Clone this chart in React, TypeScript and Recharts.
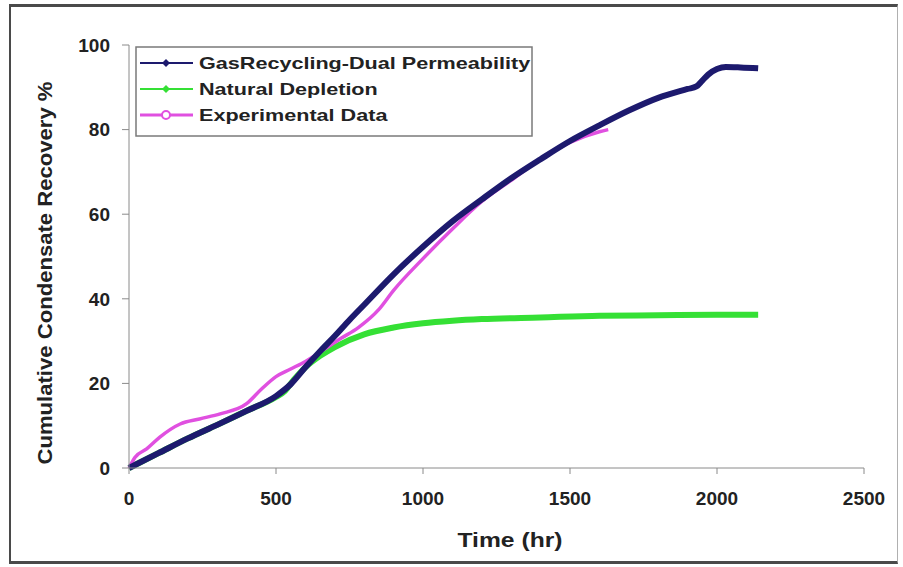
import React from 'react';
import { LineChart, Line, XAxis, YAxis, Legend, Label } from 'recharts';

// Time (hr) and cumulative recovery (%)
const gasTime = [0, 100, 200, 300, 400, 500, 550, 600, 650, 700, 750, 800, 900, 1000, 1100, 1200, 1300, 1400, 1500, 1600, 1700, 1800, 1900, 1930, 1950, 1970, 2000, 2030, 2080, 2140];
const gasValue = [0, 3.5, 7, 10.2, 13.5, 17, 19.8, 23.8, 27.6, 31.2, 35, 38.6, 45.8, 52.3, 58.3, 63.5, 68.5, 73, 77.3, 81, 84.5, 87.5, 89.6, 90.2, 91.6, 93, 94.3, 94.8, 94.7, 94.5];

const depletionTime = [0, 100, 200, 300, 400, 500, 530, 560, 600, 650, 700, 800, 900, 1000, 1100, 1200, 1400, 1600, 1800, 2000, 2140];
const depletionValue = [0, 3.5, 7, 10.2, 13.5, 16.8, 18.2, 20.8, 23.8, 26.5, 28.6, 31.6, 33.2, 34.2, 34.8, 35.2, 35.6, 36, 36.1, 36.2, 36.2];

const expTime = [0, 20, 60, 105, 174, 240, 310, 400, 450, 500, 550, 600, 650, 720, 780, 850, 900, 1000, 1100, 1200, 1300, 1400, 1500, 1600, 1630];
const expValue = [0, 2.5, 4.5, 7.3, 10.4, 11.6, 12.8, 15.2, 18.6, 21.6, 23.4, 25.2, 27.4, 30.6, 33.2, 37.5, 42, 49.5, 56.5, 63, 68, 73, 77, 79.5, 80];

const xTicks = [0, 500, 1000, 1500, 2000, 2500];
const yTicks = [0, 20, 40, 60, 80, 100];

const seriesNames = ['GasRecycling-Dual Permeability', 'Natural Depletion', 'Experimental Data'];

const GAS = '#1d1a6e';
const DEP = '#35e035';
const EXP = '#e050e0';

const toPoints = (ts: number[], vs: number[]) => ts.map((t, i) => ({ t, v: vs[i] }));

const gasData = toPoints(gasTime, gasValue);
const depletionData = toPoints(depletionTime, depletionValue);
const expData = toPoints(expTime, expValue);

const FONT = '"Liberation Sans", Arial, sans-serif';

function LegendBox() {
  const rows = [
    { name: seriesNames[0], color: GAS, marker: 'diamond' },
    { name: seriesNames[1], color: DEP, marker: 'diamond' },
    { name: seriesNames[2], color: EXP, marker: 'circle' },
  ];
  return (
    <svg width={398} height={91} style={{ display: 'block' }}>
      <rect x={1} y={1} width={396} height={89} fill="#fff" stroke="#7a7a7a" strokeWidth={1.5} />
      {rows.map((r, i) => {
        const cy = 17 + i * 26;
        return (
          <g key={r.name}>
            <line x1={5} x2={58} y1={cy} y2={cy} stroke={r.color} strokeWidth={r.marker === 'circle' ? 3 : 2} />
            {r.marker === 'circle' ? (
              <circle cx={31} cy={cy} r={4} fill="#fff" stroke={r.color} strokeWidth={2} />
            ) : (
              <path d={`M31 ${cy - 4} L35 ${cy} L31 ${cy + 4} L27 ${cy} Z`} fill={r.color} />
            )}
            <text
              transform={`translate(64 ${cy + 6}) scale(1.35 1)`}
              fontFamily={FONT}
              fontWeight="bold"
              fontSize={16}
              fill="#222"
            >
              {r.name}
            </text>
          </g>
        );
      })}
    </svg>
  );
}

export default function App() {
  return (
    <div style={{ position: 'absolute', left: 0, top: 0, width: 903, height: 567, background: '#fff' }}>
      <div
        style={{
          position: 'absolute',
          left: 9,
          top: 4,
          width: 889,
          height: 560,
          boxSizing: 'border-box',
          borderTop: '3px solid #4a4a4a',
          borderLeft: '2px solid #4a4a4a',
          borderBottom: '3px solid #4a4a4a',
          borderRight: '1px solid #b0b0b0',
        }}
      />
      <LineChart
        width={903}
        height={567}
        margin={{ top: 45, right: 39, bottom: 0, left: 0 }}
        style={{ position: 'absolute', left: 0, top: 0 }}
      >
        <XAxis
          type="number"
          dataKey="t"
          domain={[0, 2500]}
          ticks={xTicks}
          height={99}
          stroke="#8a8a8a"
          tickSize={6}
          tickMargin={18}
          tick={{ fontFamily: FONT, fontWeight: 'bold', fontSize: 19, fill: '#222' }}
          allowDuplicatedCategory={false}
        >
          <Label
            content={() => (
              <text
                x={510}
                y={547}
                textAnchor="middle"
                fontFamily={FONT}
                fontWeight="bold"
                fontSize={20}
                fill="#222"
                textLength={105}
                lengthAdjust="spacingAndGlyphs"
              >
                Time (hr)
              </text>
            )}
          />
        </XAxis>
        <YAxis
          type="number"
          domain={[0, 100]}
          ticks={yTicks}
          width={129}
          stroke="#8a8a8a"
          tickSize={7}
          tickMargin={12}
          tick={{ fontFamily: FONT, fontWeight: 'bold', fontSize: 19, fill: '#222' }}
        >
          <Label
            content={() => (
              <text
                transform="translate(52 273) rotate(-90)"
                textAnchor="middle"
                fontFamily={FONT}
                fontWeight="bold"
                fontSize={20}
                fill="#222"
                textLength={383}
                lengthAdjust="spacingAndGlyphs"
              >
                Cumulative Condensate Recovery %
              </text>
            )}
          />
        </YAxis>
        <Legend
          layout="vertical"
          align="center"
          verticalAlign="middle"
          wrapperStyle={{ left: 135, top: 46, width: 398, height: 91 }}
          content={() => <LegendBox />}
        />
        <Line
          data={depletionData}
          dataKey="v"
          name={seriesNames[1]}
          type="monotone"
          stroke={DEP}
          strokeWidth={6}
          dot={false}
          isAnimationActive={false}
        />
        <Line
          data={expData}
          dataKey="v"
          name={seriesNames[2]}
          type="monotone"
          stroke={EXP}
          strokeWidth={3.5}
          dot={false}
          isAnimationActive={false}
        />
        <Line
          data={gasData}
          dataKey="v"
          name={seriesNames[0]}
          type="monotone"
          stroke={GAS}
          strokeWidth={6}
          dot={false}
          isAnimationActive={false}
        />
      </LineChart>
    </div>
  );
}
